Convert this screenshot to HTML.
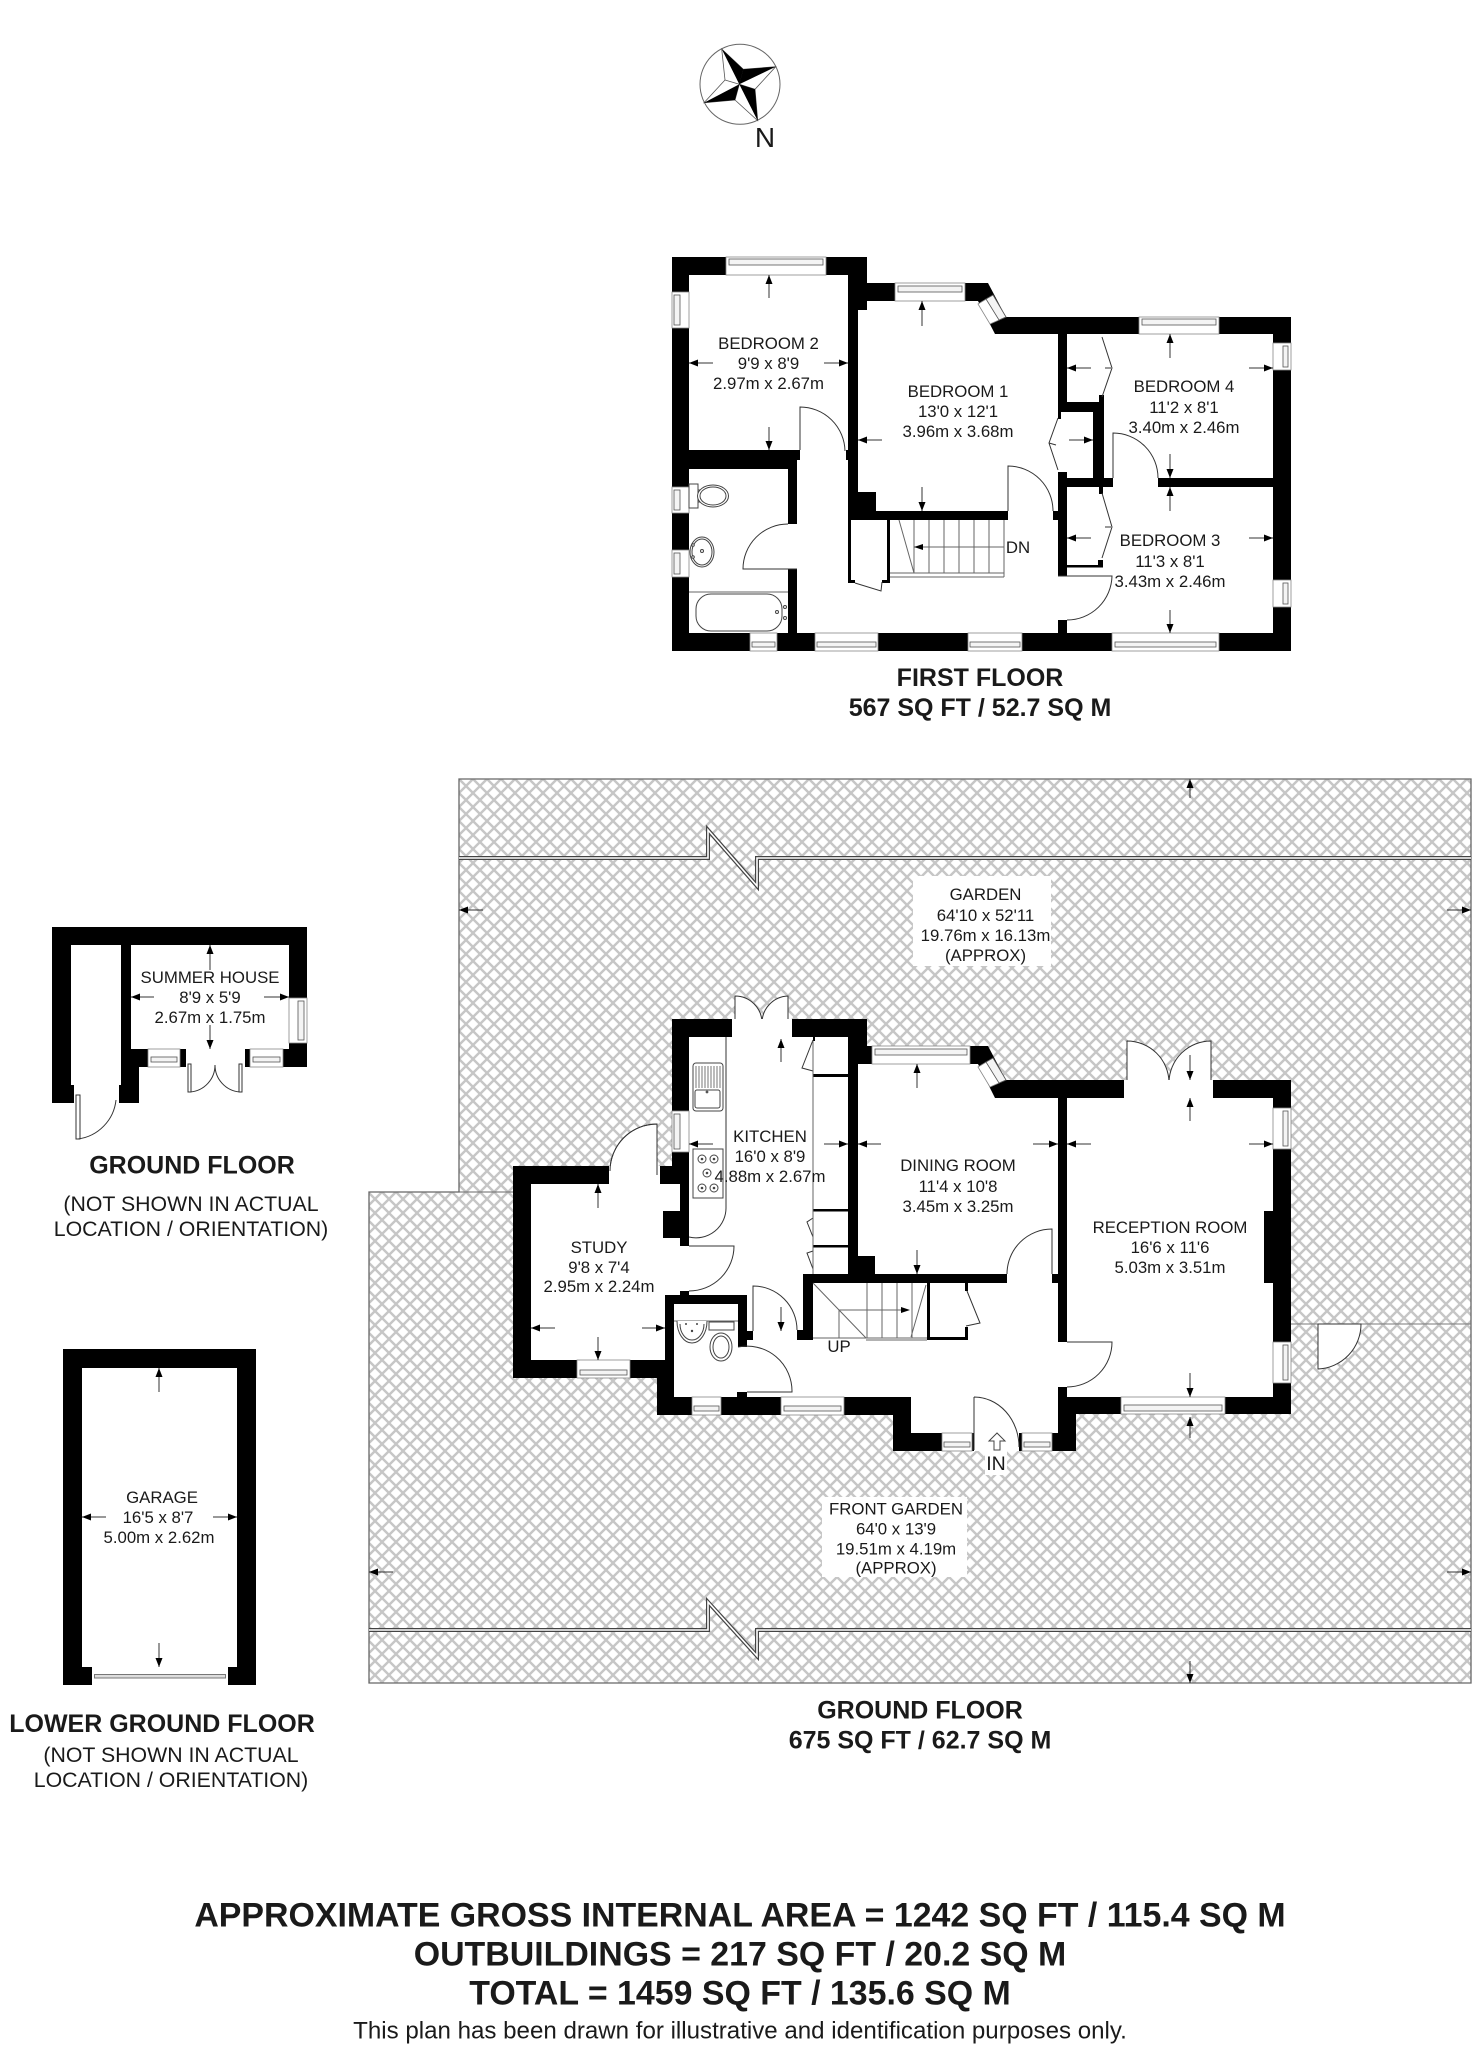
<!DOCTYPE html>
<html><head><meta charset="utf-8"><title>Floor plan</title>
<style>
html,body{margin:0;padding:0;background:#fff}
svg{display:block}
text{font-family:"Liberation Sans",sans-serif;fill:#1a1a1a;text-anchor:middle}
.r{font-size:16.8px}
.h{font-size:25px;font-weight:bold;fill:#000}
.n{font-size:21.3px}
.t{font-size:33.9px;font-weight:bold;fill:#000}
.ar line{stroke:#333;stroke-width:1;marker-end:url(#a)}
.d{fill:none;stroke:#333;stroke-width:1}
.df{fill:#fff;stroke:#333;stroke-width:1}
.fx{fill:#fff;stroke:#444;stroke-width:1}
.th{fill:none;stroke:#666;stroke-width:1}
.w{fill:#fff;stroke:#888;stroke-width:.8}
.wi{fill:#f4f4f4;stroke:#555;stroke-width:.8}
</style></head>
<body>
<svg xmlns="http://www.w3.org/2000/svg" width="1479" height="2048" viewBox="0 0 1479 2048">
<defs>
<marker id="a" markerUnits="userSpaceOnUse" markerWidth="10" markerHeight="8" refX="9" refY="3.5" orient="auto"><path d="M0,0 L9,3.5 L0,7 Z" fill="#000"/></marker>
<pattern id="hatch" patternUnits="userSpaceOnUse" width="14" height="14" x="459" y="779">
<rect width="14" height="14" fill="#fff"/>
<path d="M-2,-2 L16,16 M16,-2 L-2,16 M-2,12 L2,16 M12,-2 L16,2 M12,16 L16,12 M-2,2 L2,-2" stroke="#c6c6c6" stroke-width="2.4" fill="none"/>
</pattern>
</defs>
<rect width="1479" height="2048" fill="#fff"/>

<!-- compass -->
<circle cx="740" cy="84.3" r="40" fill="#fff" stroke="#666" stroke-width="1"/>
<g fill="#fff" stroke="#555" stroke-width=".8">
<path d="M721.7,49 L743.3,69.3 L775.7,66.7 L755,89.3 L757.7,120.7 L735,100 L704,102.7 L725,80 Z"/>
<path d="M725,80 L739.3,84.3 L755,89.3 M743.3,69.3 L739.3,84.3 L735,100"/>
</g>
<g fill="#000">
<path d="M739.3,84.3 L721.7,49 L743.3,69.3 Z"/>
<path d="M739.3,84.3 L743.3,69.3 L775.7,66.7 Z"/>
<path d="M739.3,84.3 L755,89.3 L757.7,120.7 Z"/>
<path d="M739.3,84.3 L735,100 L704,102.7 Z"/>
</g>
<text x="765" y="147" style="font-size:28px">N</text>

<!-- garden -->
<path d="M459,779 L1471,779 L1471,1683 L369,1683 L369,1192 L459,1192 Z" fill="url(#hatch)" stroke="#666" stroke-width="1.3"/>
<line x1="369" y1="1192" x2="520" y2="1192" stroke="#666" stroke-width="1"/>
<line x1="1290" y1="1324" x2="1471" y2="1324" stroke="#777" stroke-width="1"/>
<g fill="none">
<path d="M459,858 L708,858 L708,830 L757,886 L757,858 L1471,858" stroke="#444" stroke-width="4"/>
<path d="M459,858 L708,858 L708,830 L757,886 L757,858 L1471,858" stroke="#fff" stroke-width="1.6"/>
<path d="M369,1630 L708,1630 L708,1602 L757,1656 L757,1630 L1471,1630" stroke="#444" stroke-width="4"/>
<path d="M369,1630 L708,1630 L708,1602 L757,1656 L757,1630 L1471,1630" stroke="#fff" stroke-width="1.6"/>
</g>
<rect x="913" y="876" width="138" height="90" fill="#fff"/>
<rect x="822" y="1497" width="145" height="80" fill="#fff"/>
<rect x="985" y="1451" width="22" height="24" fill="#fff"/>
<path d="M1318,1324 L1318,1369 A45,45 0 0 0 1361,1324 Z" class="df"/>

<!-- swing door fills outside -->
<path d="M657,1175 L657,1124 A47,47 0 0 0 610,1171 L610,1180 L657,1180 Z" class="df"/>
<path d="M735,1025 L735,996 A27,27 0 0 1 762,1023 A27,27 0 0 1 788,996 L788,1025 Z" class="df"/>
<path d="M1127,1085 L1127,1041 A42,42 0 0 1 1169,1082 A42,42 0 0 1 1211,1041 L1211,1085 Z" class="df"/>

<!-- FIRST FLOOR walls -->
<path d="M672,257 L867,257 L867,283 L988,283 L1006,317 L1291,317 L1291,651 L672,651 Z" fill="#000"/>
<g fill="#fff">
<rect x="689" y="275" width="159" height="175"/>
<rect x="689" y="469" width="99" height="164"/>
<path d="M858,310 L867,310 L867,301 L978,301 L995,334 L1058,334 L1058,412 L1093,412 L1093,478 L1058,478 L1058,511 L1053,511 L1053,520 L1008,520 L1008,511 L876,511 L876,492 L858,492 Z"/>
<path d="M797,460 L800,460 L800,450 L846,450 L846,460 L848,460 L848,520 L1058,520 L1058,576 L1067,576 L1067,620 L1058,620 L1058,633 L797,633 L797,569 L788,569 L788,524 L797,524 Z"/>
<path d="M1067,334 L1273,334 L1273,478 L1158,478 L1158,487 L1113,487 L1113,478 L1104,478 L1104,402 L1067,402 Z"/>
<rect x="1067" y="487" width="206" height="146"/>
</g>
<g fill="#000">
<rect x="848" y="511" width="3" height="72"/>
<rect x="848" y="580" width="7" height="3"/>
<rect x="887" y="520" width="3" height="63"/>
<rect x="882" y="580" width="8" height="3"/>
<rect x="851" y="511" width="157" height="9"/>
<rect x="1067" y="565" width="36" height="2.5"/>
<rect x="1098" y="560" width="5" height="7.5"/>
<rect x="1099" y="487" width="4" height="7"/>
<rect x="1099" y="395" width="5" height="7"/>
<rect x="1093" y="402" width="11" height="76"/>
<rect x="1058" y="472" width="9" height="6"/>
<rect x="1058" y="412" width="3" height="7"/>
</g>
<!-- first floor windows -->
<g>
<rect class="w" x="726" y="257" width="100" height="18"/><rect class="wi" x="729" y="259" width="94" height="6"/>
<rect class="w" x="672" y="292" width="17" height="36"/><rect class="wi" x="674" y="295" width="6" height="30"/>
<rect class="w" x="895" y="283" width="70" height="18"/><rect class="wi" x="898" y="286" width="64" height="6"/>
<path class="w" d="M978,304 L993,295 L1006,317 L990,324 Z"/><path class="wi" d="M986,299 L993,295 L1006,317 L999,320 Z"/>
<rect class="w" x="1139" y="317" width="80" height="17"/><rect class="wi" x="1142" y="319" width="74" height="6"/>
<rect class="w" x="1273" y="343" width="18" height="27"/><rect class="wi" x="1283" y="346" width="5" height="21"/>
<rect class="w" x="1273" y="580" width="18" height="27"/><rect class="wi" x="1283" y="583" width="5" height="21"/>
<rect class="w" x="1112" y="633" width="107" height="18"/><rect class="wi" x="1115" y="642" width="101" height="5"/>
<rect class="w" x="968" y="633" width="54" height="18"/><rect class="wi" x="970" y="642" width="50" height="5"/>
<rect class="w" x="815" y="633" width="63" height="18"/><rect class="wi" x="817" y="642" width="59" height="5"/>
<rect class="w" x="750" y="633" width="27" height="18"/><rect class="wi" x="752" y="642" width="23" height="5"/>
<rect class="w" x="672" y="487" width="17" height="26"/><rect class="wi" x="674" y="490" width="6" height="20"/>
<rect class="w" x="672" y="550" width="17" height="27"/><rect class="wi" x="674" y="553" width="6" height="21"/>
</g>
<!-- first floor doors, fittings -->
<g class="d">
<path d="M800,450 L800,407 A45,45 0 0 1 845,451"/>
<path d="M797,569 L743,569 A45,45 0 0 1 788,524"/>
<path d="M1008,511 L1008,466 A45,45 0 0 1 1053,511"/>
<path d="M1113,478 L1113,433 A45,45 0 0 1 1158,478"/>
<path d="M1058,576 L1112,576 A45,45 0 0 1 1067,620"/>
<path d="M855,583 L881,591 L882,582"/>
<path d="M1058,418 L1049,443 L1058,470"/>
<path d="M1102,337 L1112,368 L1102,397"/>
<path d="M1102,493 L1112,527 L1102,558"/>
<path d="M1049,443 L1056,445"/>
<path d="M1105,368 L1111,368 M1105,527 L1111,527"/>
</g>
<g class="th">
<path d="M914,520 L914,573 M929,520 L929,573 M944,520 L944,573 M959,520 L959,573 M974,520 L974,573 M989,520 L989,573 M1004,520 L1004,577"/>
<path d="M914,547 L1004,547 M890,573 L1004,573 M890,577 L1004,577 M899,520 L914,573"/>
<path d="M689,592 L788,592"/>
</g>
<g fill="#000"><path d="M914,547 L923,544 L923,550 Z"/></g>
<rect x="689" y="484" width="9" height="24" class="fx"/>
<rect x="698" y="490" width="4" height="12" class="fx"/>
<ellipse cx="713" cy="496" rx="15.5" ry="11" class="fx"/><ellipse cx="713" cy="496" rx="13" ry="9" class="fx"/>
<ellipse cx="702" cy="552" rx="12" ry="15" class="fx"/><ellipse cx="702" cy="552" rx="10" ry="13" class="fx"/>
<rect x="696" y="594" width="86" height="37" rx="15" class="fx"/>
<circle cx="777" cy="612" r="1.5" class="fx"/><circle cx="785" cy="607" r="1.5" class="fx"/><circle cx="785" cy="618" r="1.5" class="fx"/>
<circle cx="702" cy="551" r="1.5" class="fx"/><circle cx="693" cy="545" r="1.3" class="fx"/><circle cx="693" cy="557" r="1.3" class="fx"/>

<!-- first floor arrows -->
<g class="ar">
<line x1="769" y1="298" x2="769" y2="275"/><line x1="769" y1="427" x2="769" y2="450"/><line x1="713" y1="363" x2="689" y2="363"/><line x1="824" y1="363" x2="848" y2="363"/>
<line x1="922" y1="326" x2="922" y2="301"/><line x1="922" y1="487" x2="922" y2="511"/><line x1="882" y1="440" x2="858" y2="440"/><line x1="1069" y1="440" x2="1093" y2="440"/>
<line x1="1170" y1="358" x2="1170" y2="334"/><line x1="1170" y1="454" x2="1170" y2="478"/><line x1="1091" y1="368" x2="1067" y2="368"/><line x1="1249" y1="368" x2="1273" y2="368"/>
<line x1="1170" y1="511" x2="1170" y2="487"/><line x1="1170" y1="610" x2="1170" y2="633"/><line x1="1091" y1="538" x2="1067" y2="538"/><line x1="1249" y1="538" x2="1273" y2="538"/>
</g>

<!-- GROUND FLOOR walls -->
<path d="M672,1019 L867,1019 L867,1046 L988,1046 L1006,1080 L1291,1080 L1291,1414 L1076,1414 L1076,1451 L893,1451 L893,1415 L657,1415 L657,1378 L513,1378 L513,1166 L672,1166 Z" fill="#000"/>
<g fill="#fff">
<path d="M732,1019 L792,1019 L792,1037 L848,1037 L848,1274 L803,1274 L803,1330 L797,1330 L797,1340 L968,1340 L968,1283 L1007,1283 L1007,1274 L1052,1274 L1052,1283 L1058,1283 L1058,1433 L1019,1433 L1019,1451 L974,1451 L974,1433 L911,1433 L911,1397 L747,1397 L747,1340 L753,1340 L753,1331 L747,1331 L747,1295 L689,1295 L689,1291 L680,1291 L680,1295 L665,1295 L665,1360 L531,1360 L531,1184 L609,1184 L609,1166 L660,1166 L660,1184 L680,1184 L680,1211 L663,1211 L663,1238 L680,1238 L680,1246 L689,1246 L689,1037 L732,1037 Z"/>
<path d="M674,1304 L738,1304 L738,1347 L747,1347 L747,1392 L737,1392 L737,1397 L674,1397 Z"/>
<path d="M858,1064 L978,1064 L995,1098 L1058,1098 L1058,1274 L875,1274 L875,1256 L858,1256 Z"/>
<path d="M1067,1098 L1124,1098 L1124,1080 L1213,1080 L1213,1098 L1273,1098 L1273,1211 L1264,1211 L1264,1283 L1273,1283 L1273,1397 L1067,1397 L1067,1387 L1058,1387 L1058,1342 L1067,1342 Z"/>
<rect x="813" y="1283" width="155" height="57"/>
</g>
<g fill="#000">
<rect x="813" y="1074" width="35" height="3"/>
<rect x="813" y="1209" width="35" height="2.5"/>
<rect x="813" y="1245" width="35" height="2.5"/>
<rect x="813" y="1274" width="155" height="9"/>
<rect x="803" y="1274" width="10" height="66"/>
<rect x="927" y="1283" width="3" height="57"/>
<rect x="927" y="1337" width="41" height="3"/>
<rect x="965" y="1327" width="3" height="13"/>
<rect x="965" y="1283" width="3" height="8"/>
<rect x="813" y="1037" width="2" height="4"/>
</g>
<!-- ground windows -->
<g>
<rect class="w" x="672" y="1111" width="17" height="41"/><rect class="wi" x="674" y="1114" width="6" height="35"/>
<rect class="w" x="577" y="1360" width="53" height="18"/><rect class="wi" x="580" y="1370" width="47" height="5"/>
<rect class="w" x="692" y="1397" width="29" height="18"/><rect class="wi" x="694" y="1406" width="25" height="5"/>
<rect class="w" x="781" y="1397" width="63" height="18"/><rect class="wi" x="784" y="1406" width="57" height="5"/>
<rect class="w" x="942" y="1433" width="30" height="18"/><rect class="wi" x="944" y="1442" width="26" height="5"/>
<rect class="w" x="1022" y="1433" width="30" height="18"/><rect class="wi" x="1024" y="1442" width="26" height="5"/>
<rect class="w" x="1121" y="1397" width="104" height="17"/><rect class="wi" x="1124" y="1405" width="98" height="6"/>
<rect class="w" x="1273" y="1108" width="18" height="41"/><rect class="wi" x="1283" y="1111" width="5" height="35"/>
<rect class="w" x="1273" y="1342" width="18" height="41"/><rect class="wi" x="1283" y="1345" width="5" height="35"/>
<rect class="w" x="872" y="1046" width="98" height="18"/><rect class="wi" x="875" y="1049" width="92" height="6"/>
<path class="w" d="M978,1067 L993,1058 L1006,1080 L990,1087 Z"/><path class="wi" d="M986,1062 L993,1058 L1006,1080 L999,1083 Z"/>
</g>
<!-- ground doors/fixtures -->
<g class="d">
<path d="M657,1175 L657,1124 A47,47 0 0 0 610,1171"/>
<path d="M689,1246 L734,1246 A45,45 0 0 1 689,1291"/>
<path d="M753,1331 L753,1286 A44,44 0 0 1 797,1330"/>
<path d="M747,1392 L792,1392 A45,45 0 0 0 738,1347"/>
<path d="M1052,1274 L1052,1229 A45,45 0 0 0 1007,1274"/>
<path d="M1067,1342 L1112,1342 A45,45 0 0 1 1067,1387"/>
<path d="M974,1397 L974,1450 M974,1397 A45,50 0 0 1 1019,1447"/>
<path d="M726,1037 L726,1207 A30,30 0 0 1 689,1237"/>
<path d="M813,1040 L802,1068 L813,1071"/>
<path d="M813,1218 L807,1222 L813,1237"/>
<path d="M813,1251 L807,1253 L813,1269"/>
<path d="M967,1291 L980,1323 L966,1326"/>
</g>
<g class="th">
<path d="M813,1041 L813,1274"/>
<path d="M867,1283 L867,1338 M882,1283 L882,1338 M897,1283 L897,1338 M912,1283 L912,1338 M839,1310 L839,1338"/>
<path d="M839,1310 L902,1310 M813,1283 L866,1338 M911,1337 L926,1285 M813,1338 L927,1338 M866,1340 L927,1340"/>
<path d="M674,1321 L738,1321"/>
</g>
<path d="M910,1310 L901,1307 L901,1313 Z" fill="#000"/>
<rect x="693" y="1063" width="30" height="48" rx="3" class="fx"/>
<rect x="695" y="1090" width="25" height="18" rx="2" class="fx"/>
<path d="M696,1066 L696,1088 M699,1066 L699,1088 M702,1066 L702,1088 M705,1066 L705,1088 M708,1066 L708,1088 M711,1066 L711,1088 M714,1066 L714,1088 M717,1066 L717,1088 M720,1066 L720,1088" stroke="#555" stroke-width=".8"/>
<circle cx="707" cy="1092" r="1.4" fill="#555"/>
<rect x="693" y="1149" width="30" height="49" class="fx"/>
<g class="fx"><circle cx="702" cy="1159" r="4"/><circle cx="714" cy="1159" r="4"/><circle cx="707" cy="1173" r="4"/><circle cx="702" cy="1188" r="4"/><circle cx="714" cy="1188" r="4"/></g>
<g fill="#444"><circle cx="702" cy="1159" r="1.3"/><circle cx="714" cy="1159" r="1.3"/><circle cx="707" cy="1173" r="1.3"/><circle cx="702" cy="1188" r="1.3"/><circle cx="714" cy="1188" r="1.3"/></g>
<path d="M677,1321 A15,22 0 0 0 707,1321" class="fx"/><path d="M680,1324 A12,16 0 0 0 704,1324" class="fx"/>
<circle cx="692" cy="1331" r="1.2" fill="#444"/><circle cx="686" cy="1324" r="1" fill="#444"/><circle cx="697" cy="1324" r="1" fill="#444"/>
<rect x="709" y="1322" width="25" height="8" class="fx"/>
<ellipse cx="721" cy="1347" rx="11" ry="14" class="fx"/><ellipse cx="721" cy="1347" rx="8" ry="11" class="fx"/>
<path d="M997,1433 L989,1441 L994,1441 L994,1450 L1000,1450 L1000,1441 L1005,1441 Z" fill="#fff" stroke="#444" stroke-width="1"/>

<!-- ground arrows -->
<g class="ar">
<line x1="598" y1="1208" x2="598" y2="1184"/><line x1="598" y1="1337" x2="598" y2="1360"/><line x1="555" y1="1328" x2="531" y2="1328"/><line x1="642" y1="1328" x2="665" y2="1328"/>
<line x1="781" y1="1062" x2="781" y2="1039"/><line x1="781" y1="1307" x2="781" y2="1331"/><line x1="713" y1="1144" x2="689" y2="1144"/><line x1="824" y1="1144" x2="848" y2="1144"/>
<line x1="917" y1="1088" x2="917" y2="1064"/><line x1="917" y1="1250" x2="917" y2="1274"/><line x1="881" y1="1144" x2="858" y2="1144"/><line x1="1033" y1="1144" x2="1058" y2="1144"/>
<line x1="1190" y1="1121" x2="1190" y2="1098"/><line x1="1190" y1="1373" x2="1190" y2="1397"/><line x1="1091" y1="1144" x2="1067" y2="1144"/><line x1="1249" y1="1144" x2="1273" y2="1144"/>
<line x1="1190" y1="1055" x2="1190" y2="1080"/><line x1="1190" y1="1438" x2="1190" y2="1417"/>
<line x1="1190" y1="798" x2="1190" y2="779"/><line x1="483" y1="910" x2="459" y2="910"/><line x1="1447" y1="910" x2="1471" y2="910"/>
<line x1="393" y1="1572" x2="369" y2="1572"/><line x1="1447" y1="1572" x2="1471" y2="1572"/><line x1="1190" y1="1661" x2="1190" y2="1683"/>
</g>

<!-- SUMMER HOUSE -->
<path d="M52,927 L307,927 L307,1067 L139,1067 L139,1103 L119,1103 L119,1085 L74,1085 L74,1103 L52,1103 Z" fill="#000"/>
<g fill="#fff">
<path d="M71,945 L121,945 L121,1085 L119,1085 L119,1105 L74,1105 L74,1085 L71,1085 Z"/>
<rect x="131" y="945" width="158" height="104"/>
<rect x="186" y="1049" width="59" height="19"/>
</g>
<rect class="w" x="148" y="1049" width="32" height="18"/><rect class="wi" x="151" y="1057" width="26" height="5"/>
<rect class="w" x="250" y="1049" width="33" height="18"/><rect class="wi" x="253" y="1057" width="27" height="5"/>
<rect class="w" x="289" y="998" width="18" height="45"/><rect class="wi" x="298" y="1001" width="6" height="39"/>
<g class="d">
<path d="M76,1095 L80,1095 L80,1139 L76,1139 Z M78,1139 A44,44 0 0 0 116,1100"/>
<path d="M188,1064 L188,1092 L191,1092 L191,1064 Z M190,1092 A27,27 0 0 0 215,1065"/>
<path d="M242,1064 L242,1092 L239,1092 L239,1064 Z M240,1092 A27,27 0 0 1 215,1065"/>
</g>
<g class="ar">
<line x1="210" y1="970" x2="210" y2="945"/><line x1="210" y1="1025" x2="210" y2="1049"/><line x1="154" y1="997" x2="131" y2="997"/><line x1="264" y1="997" x2="289" y2="997"/>
</g>

<!-- GARAGE -->
<path d="M63,1349 L256,1349 L256,1685 L228,1685 L228,1667 L237,1667 L237,1368 L82,1368 L82,1667 L92,1667 L92,1685 L63,1685 Z" fill="#000"/>
<rect x="94.5" y="1674.5" width="131" height="3.5" fill="#ddd" stroke="#777" stroke-width="1"/>
<g class="ar">
<line x1="159" y1="1392" x2="159" y2="1368"/><line x1="159" y1="1643" x2="159" y2="1667"/><line x1="106" y1="1517" x2="82" y2="1517"/><line x1="213" y1="1517" x2="237" y2="1517"/>
</g>

<!-- room labels -->
<g class="r">
<text x="768.5" y="349">BEDROOM 2</text><text x="768.5" y="369">9'9 x 8'9</text><text x="768.5" y="389">2.97m x 2.67m</text>
<text x="958" y="397">BEDROOM 1</text><text x="958" y="417">13'0 x 12'1</text><text x="958" y="437">3.96m x 3.68m</text>
<text x="1184" y="392">BEDROOM 4</text><text x="1184" y="413">11'2 x 8'1</text><text x="1184" y="433">3.40m x 2.46m</text>
<text x="1170" y="546">BEDROOM 3</text><text x="1170" y="567">11'3 x 8'1</text><text x="1170" y="587">3.43m x 2.46m</text>
<text x="1018" y="553">DN</text>
<text x="985.5" y="900">GARDEN</text><text x="985.5" y="921">64'10 x 52'11</text><text x="985.5" y="941">19.76m x 16.13m</text><text x="985.5" y="961">(APPROX)</text>
<text x="770" y="1142">KITCHEN</text><text x="770" y="1162">16'0 x 8'9</text><text x="770" y="1182">4.88m x 2.67m</text>
<text x="958" y="1171">DINING ROOM</text><text x="958" y="1192">11'4 x 10'8</text><text x="958" y="1212">3.45m x 3.25m</text>
<text x="1170" y="1233">RECEPTION ROOM</text><text x="1170" y="1253">16'6 x 11'6</text><text x="1170" y="1273">5.03m x 3.51m</text>
<text x="599" y="1253">STUDY</text><text x="599" y="1273">9'8 x 7'4</text><text x="599" y="1292">2.95m x 2.24m</text>
<text x="839" y="1352">UP</text>
<text x="896" y="1514.5">FRONT GARDEN</text><text x="896" y="1534.5">64'0 x 13'9</text><text x="896" y="1554.5">19.51m x 4.19m</text><text x="896" y="1573.5">(APPROX)</text>
<text x="210" y="983">SUMMER HOUSE</text><text x="210" y="1003">8'9 x 5'9</text><text x="210" y="1023">2.67m x 1.75m</text>
<text x="162" y="1503">GARAGE</text><text x="158" y="1523">16'5 x 8'7</text><text x="159" y="1543">5.00m x 2.62m</text>
</g>
<text x="996" y="1470" style="font-size:19.5px">IN</text>

<!-- headings -->
<g class="h">
<text x="980" y="686">FIRST FLOOR</text><text x="980" y="716">567 SQ FT / 52.7 SQ M</text>
<text x="920" y="1718.5">GROUND FLOOR</text><text x="920" y="1748.5">675 SQ FT / 62.7 SQ M</text>
<text x="192" y="1173.5">GROUND FLOOR</text>
<text x="162" y="1732">LOWER GROUND FLOOR</text>
</g>
<g class="n">
<text x="191" y="1211">(NOT SHOWN IN ACTUAL</text><text x="191" y="1236">LOCATION / ORIENTATION)</text>
<text x="171" y="1762">(NOT SHOWN IN ACTUAL</text><text x="171" y="1787">LOCATION / ORIENTATION)</text>
</g>
<g class="t">
<text x="740" y="1926.5">APPROXIMATE GROSS INTERNAL AREA = 1242 SQ FT / 115.4 SQ M</text>
<text x="740" y="1965.5">OUTBUILDINGS = 217 SQ FT / 20.2 SQ M</text>
<text x="740" y="2004.5">TOTAL = 1459 SQ FT / 135.6 SQ M</text>
</g>
<text x="740" y="2038.5" style="font-size:24.1px">This plan has been drawn for illustrative and identification purposes only.</text>
</svg>
</body></html>
